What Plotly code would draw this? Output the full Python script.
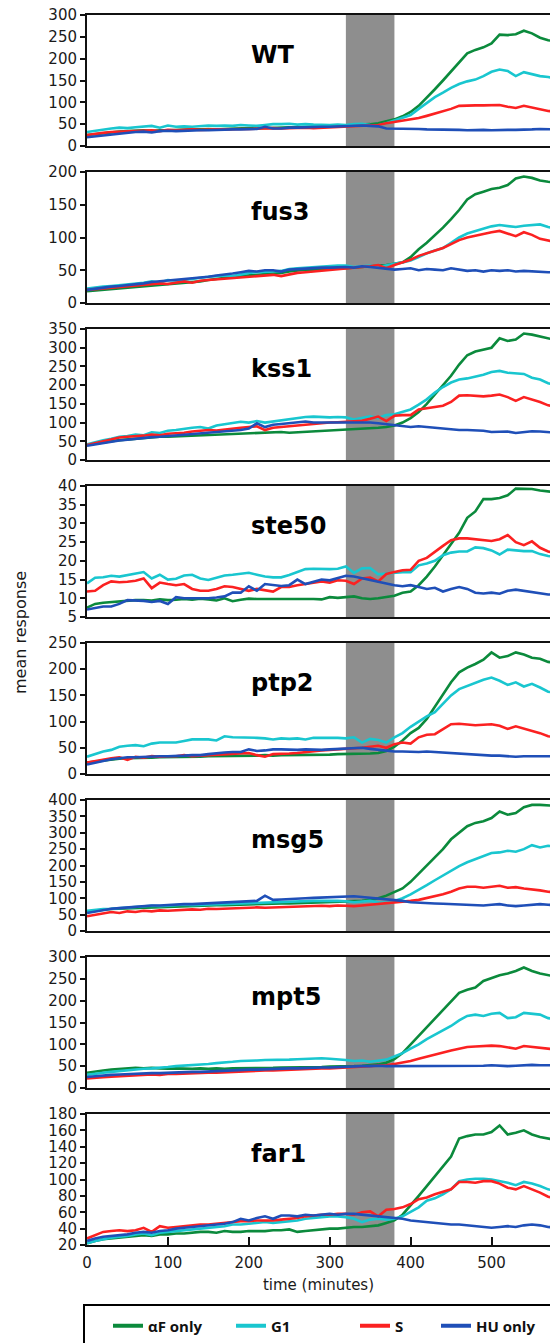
import plotly.graph_objects as go
from plotly.subplots import make_subplots

TIME = list(range(0, 590, 10))  # minutes
SHADE = [320, 380]
SERIES_NAMES = ["αF only", "G1", "S", "HU only"]
COLORS = ["#0b8a3c", "#19c6cf", "#fb2121", "#1f4fb8"]

WT_AF = [25,27,30,32,33,34,35,36,34,36, 36,37,37,38,38,39,38,39,40,40, 41,40,41,42,42,43,43,44,44,45,
         45,46,47,47,48,50,52,56,61,68, 78,92,110,130,150,170,190,212,220,226, 235,255,254,256,264,258,248,242,240]
WT_G1 = [32,35,38,40,42,41,43,44,46,42, 47,44,45,44,46,47,46,47,46,48, 47,46,48,50,50,51,49,50,49,48,
         48,49,48,50,51,48,47,52,58,64, 71,85,99,112,122,133,142,148,152,160, 170,175,172,160,169,164,160,158,155]
WT_S = [25,28,30,32,33,34,35,35,36,34, 37,36,37,38,37,38,38,38,39,39, 39,40,40,41,40,41,42,42,41,42,
        42,43,44,45,46,47,48,52,55,57, 60,64,69,74,79,85,92,93,93,93, 93,94,90,87,92,88,84,80,79]
WT_HU = [20,22,25,27,29,30,32,33,31,34, 35,34,35,35,36,36,37,37,38,38, 39,39,44,40,40,42,42,43,43,44,
         44,45,46,46,47,46,45,40,40,39, 39,39,38,38,37,37,37,36,37,37, 36,37,37,37,37,38,39,38,38]

FUS3_AF = [18,19,20,21,22,23,24,25,26,27, 28,29,30,31,33,35,37,38,40,41, 42,43,44,44,46,48,50,51,51,52,
           52,53,53,54,55,55,56,58,60,62, 70,82,92,103,115,128,142,158,166,170, 174,176,180,190,193,191,187,185,184]
FUS3_G1 = [22,24,25,26,27,28,30,31,33,31, 35,34,35,37,38,40,41,42,41,44, 46,47,47,48,49,52,53,54,55,56,
           56,57,57,55,56,57,55,58,60,62, 65,70,76,80,84,92,100,106,110,114, 117,119,118,116,118,119,120,116,114]
FUS3_S = [20,21,22,23,24,25,26,27,28,30, 29,31,33,31,34,35,36,37,37,38, 40,41,42,43,41,44,46,47,48,49,
          50,52,52,53,54,56,58,53,58,62, 66,72,76,80,84,90,96,100,103,106, 108,110,106,102,108,104,98,95,93]
FUS3_HU = [20,22,24,25,26,27,29,30,32,33, 34,35,36,38,39,40,42,43,45,47, 49,48,50,50,48,51,52,53,53,54,
           54,55,55,54,56,55,54,52,51,52, 53,50,52,51,50,53,51,49,50,48, 50,49,50,48,49,48,48,47,47]

KSS1_AF = [40,44,47,50,53,55,58,60,60,62, 62,63,63,64,65,66,67,68,70,70, 72,72,73,74,75,73,74,76,77,78,
           79,80,81,82,84,85,86,88,92,100, 112,128,150,175,200,225,255,280,290,295, 300,325,318,322,338,335,330,325,320]
KSS1_G1 = [42,48,53,57,62,64,68,66,74,72, 78,80,84,86,88,84,92,96,100,102, 100,104,100,103,107,110,113,115,116,115,
           114,115,114,108,112,117,112,120,122,128, 135,148,162,180,195,207,215,218,222,228, 235,238,233,232,230,220,215,205,200]
KSS1_S = [40,45,52,56,60,62,63,65,68,66, 70,71,73,76,78,80,79,82,84,86, 88,90,80,86,88,90,92,95,97,99,
          100,101,102,103,105,110,116,104,118,120, 120,135,138,140,145,155,172,173,172,170, 172,175,168,158,168,162,155,146,143]
KSS1_HU = [38,42,46,50,52,54,57,59,61,62, 64,65,66,68,70,72,74,76,78,80, 84,98,88,94,96,98,100,103,100,101,
           100,100,100,101,101,100,98,96,93,90, 88,90,88,86,83,81,80,80,80,78, 75,76,76,72,75,77,76,74,73]

STE50_AF = [7.5,8.5,8.8,9.0,9.2,9.3,9.5,9.5,9.4,9.7, 9.5,9.6,9.8,9.6,9.9,9.7,9.4,10.0,9.2,9.6,
            9.9,9.8,9.8,9.9,9.9,10.0,10.0,9.9,9.8,9.7, 10.3,10.1,10.3,10.5,10.0,9.8,10.0,10.4,10.7,11.5,
            11.8,13.5,15.8,18.5,21.5,24.5,27.5,31.5,33.2,36.5, 36.5,36.8,37.5,39.3,39.2,39.2,38.8,38.5,38.3]
STE50_G1 = [14.0,15.5,15.6,16.0,15.8,16.2,16.5,17.0,15.3,16.3, 15.0,15.2,16.1,16.3,15.3,14.9,15.5,16.1,16.3,16.6,
            16.8,16.3,15.8,15.6,15.6,16.2,16.9,17.8,17.9,17.8, 17.8,17.9,18.5,16.8,18.0,18.1,16.4,16.6,16.8,17.0,
            17.0,18.8,19.3,20.0,21.5,22.2,22.5,22.5,23.6,23.4, 22.8,21.7,23.0,22.7,22.6,22.6,21.8,21.3,21.0]
STE50_S = [11.8,12.0,13.5,14.5,14.3,14.4,14.7,15.3,12.7,14.2, 13.8,13.5,13.8,12.5,12.0,12.0,12.5,13.2,13.0,12.5,
           12.0,12.5,12.2,11.8,13.0,13.0,13.5,13.8,14.0,14.5, 14.2,14.8,14.7,13.8,15.3,15.5,14.5,16.5,17.0,17.5,
           17.6,20.0,20.8,22.5,24.0,25.5,26.0,26.0,25.8,25.5, 25.3,25.8,26.9,25.0,24.2,25.2,23.5,22.5,22.0]
STE50_HU = [7.0,7.5,7.8,7.8,8.5,9.5,9.5,9.3,9.0,9.3, 8.5,10.3,10.0,10.0,9.8,10.0,10.2,10.5,11.5,11.5,
            13.2,12.0,13.8,13.5,13.3,13.5,15.0,13.8,14.5,15.0, 14.8,15.5,16.0,15.8,15.3,15.0,14.5,14.0,13.5,13.2,
            13.5,13.0,12.5,12.8,11.8,12.5,13.0,12.5,11.5,11.3, 11.5,11.2,12.0,12.3,12.0,11.5,11.3,11.0,11.0]

PTP2_AF = [22,24,26,28,29,30,30,31,31,32, 32,32,33,33,33,34,34,34,35,35, 35,35,36,35,36,36,36,37,37,37,
           37,38,38,38,38,39,40,44,52,64, 78,88,105,128,150,175,194,203,210,218, 232,222,225,232,228,222,220,214,212]
PTP2_G1 = [33,38,43,46,52,54,55,53,58,60, 60,60,63,66,66,66,64,72,70,70, 70,69,68,66,68,67,68,66,69,69,
           70,69,68,70,60,67,65,60,70,78, 90,100,110,118,135,150,162,168,175,180, 184,178,170,175,167,172,165,157,155]
PTP2_S = [22,25,28,30,32,27,33,31,34,33, 34,34,36,34,35,36,37,38,38,40, 40,36,33,38,38,39,40,42,43,45,
          46,47,48,48,50,52,54,50,57,60, 58,70,75,76,85,95,96,94,93,94, 95,92,86,91,87,82,78,72,70]
PTP2_HU = [18,22,25,28,30,32,32,33,33,34, 34,34,35,36,36,38,40,41,42,42, 47,44,45,47,47,46,46,47,46,46,
           47,48,49,50,50,48,46,45,43,43, 42,42,43,42,40,39,38,38,37,35, 35,35,34,33,34,34,35,34,34]

MSG5_AF = [58,62,65,67,68,70,71,72,73,74, 75,76,76,77,78,78,79,79,80,80, 81,82,82,83,84,84,85,86,86,87,
           87,88,89,90,92,95,100,108,118,130, 150,175,200,225,250,280,300,320,330,335, 345,365,355,360,378,385,385,383,382]
MSG5_G1 = [62,65,67,68,70,71,73,75,77,76, 78,79,80,79,80,81,82,83,84,85, 86,85,86,87,88,89,90,91,92,92,
           93,92,91,88,90,92,88,86,92,100, 112,125,140,155,170,185,198,210,220,230, 238,240,245,242,250,262,255,260,258]
MSG5_S = [45,50,55,58,55,60,58,62,60,63, 62,64,65,66,65,68,67,68,70,69, 70,72,71,72,73,74,74,75,76,77,
          76,78,77,76,78,80,82,84,88,90, 92,95,100,105,112,120,130,135,135,132, 135,138,132,134,130,128,124,120,118]
MSG5_HU = [55,60,65,68,70,72,75,76,78,78, 80,80,82,82,83,84,85,86,87,88, 90,92,108,95,96,98,100,100,101,102,
           105,106,105,106,104,102,100,98,95,92, 88,86,85,84,83,82,82,80,80,78, 80,82,78,76,78,80,82,80,79]

MPT5_AF = [35,38,40,42,43,45,46,45,46,45, 44,45,44,44,45,44,45,44,45,45, 46,45,46,46,47,47,48,48,48,48,
           49,49,50,50,51,52,54,58,66,80, 100,120,140,160,180,198,218,225,230,245, 252,258,262,268,276,268,262,258,255]
MPT5_G1 = [30,33,35,37,39,41,43,44,45,46, 48,50,51,53,54,55,57,58,60,62, 62,63,64,64,65,65,66,67,67,68,
           67,66,64,62,63,60,62,65,72,80, 90,100,112,122,132,142,155,165,168,165, 170,172,160,162,172,170,168,160,158]
MPT5_S = [22,24,25,26,27,28,29,30,31,30, 32,32,33,34,34,35,35,36,37,37, 38,39,40,40,41,42,43,43,44,45,
          45,46,47,48,49,50,51,52,55,58, 62,67,72,77,82,86,90,94,95,96, 97,96,93,90,96,94,91,89,88]
MPT5_HU = [25,27,29,30,31,32,33,33,34,34, 35,35,36,37,37,38,39,40,40,41, 42,42,43,44,44,45,45,46,46,47,
           47,48,48,49,50,50,51,50,50,51, 50,51,50,50,51,50,51,50,50,51, 52,51,50,51,52,53,52,52,52]

FAR1_AF = [22,25,27,28,29,30,31,32,31,33, 33,34,34,35,36,36,35,37,36,36, 37,37,37,38,38,39,36,37,38,39,
           40,40,41,42,42,43,44,47,50,57, 68,80,92,104,115,128,150,153,155,155, 158,166,155,157,160,155,152,150,148]
FAR1_G1 = [22,25,27,29,30,31,33,34,32,35, 36,37,38,39,40,41,42,43,45,45, 46,47,48,47,48,49,50,52,53,54,
           55,55,54,52,48,51,52,51,52,55, 60,66,74,77,82,88,98,100,101,101, 100,98,96,93,97,95,92,88,86]
FAR1_S = [28,32,36,37,38,37,38,41,36,43, 41,42,43,44,45,45,46,47,48,49, 49,50,50,50,51,52,53,55,56,57,
          57,58,58,57,60,61,55,63,64,66, 70,76,78,82,85,88,97,97,96,98, 98,95,90,88,92,88,84,79,77]
FAR1_HU = [25,28,30,31,32,33,35,36,35,37, 38,40,41,42,43,44,45,46,48,52, 50,53,55,52,56,56,55,57,56,57,
           58,57,58,58,57,56,55,54,53,52, 50,49,48,47,46,45,45,44,43,42, 41,42,43,42,44,45,44,42,41]

PANEL_NAMES = ["WT", "fus3", "kss1", "ste50", "ptp2", "msg5", "mpt5", "far1"]
PANEL_DATA = [
    (WT_AF, WT_G1, WT_S, WT_HU),
    (FUS3_AF, FUS3_G1, FUS3_S, FUS3_HU),
    (KSS1_AF, KSS1_G1, KSS1_S, KSS1_HU),
    (STE50_AF, STE50_G1, STE50_S, STE50_HU),
    (PTP2_AF, PTP2_G1, PTP2_S, PTP2_HU),
    (MSG5_AF, MSG5_G1, MSG5_S, MSG5_HU),
    (MPT5_AF, MPT5_G1, MPT5_S, MPT5_HU),
    (FAR1_AF, FAR1_G1, FAR1_S, FAR1_HU),
]
Y_RANGES = [(0, 300, 50), (0, 200, 50), (0, 350, 50), (5, 40, 5),
            (0, 250, 50), (0, 400, 50), (0, 300, 50), (20, 180, 20)]

W, H = 550, 1343
ML, MR, MT, MB = 87, 0, 15, 98
PW, PH = W - ML - MR, H - MT - MB

def px_x(p):
    return (p - ML) / PW

def px_y(p):
    return (H - MB - p) / PH

fig = make_subplots(rows=8, cols=1, vertical_spacing=26 / PH)

AXC = "#111111"
TICKFONT = dict(family="DejaVu Sans", size=15, color="#1a1a1a")

for i, (name, series) in enumerate(zip(PANEL_NAMES, PANEL_DATA)):
    r = i + 1
    for ys, nm, col in zip(series, SERIES_NAMES, COLORS):
        fig.add_trace(go.Scatter(x=TIME, y=ys, mode="lines", name=nm,
                                 line=dict(color=col, width=2.6),
                                 showlegend=False, hoverinfo="skip"), row=r, col=1)
    fig.add_vrect(x0=SHADE[0], x1=SHADE[1], fillcolor="#8e8e8e", opacity=1,
                  line_width=0, layer="below", row=r, col=1,
                  exclude_empty_subplots=False)
    lo, hi, dt = Y_RANGES[i]
    fig.update_yaxes(range=[lo, hi], dtick=dt, tick0=lo, row=r, col=1)
    sfx = "" if r == 1 else str(r)
    fig.add_annotation(text=f"<b>{name}</b>", xref=f"x{sfx} domain", yref=f"y{sfx} domain",
                       x=(249 - ML) / PW, y=0.695, xanchor="left", yanchor="middle",
                       showarrow=False, font=dict(family="DejaVu Sans", size=24, color="#000"))

# legend proxies (one legend per entry so positions match the boxed legend)
LEG_X = [113, 236, 360, 441]
for k, (nm, col, lx) in enumerate(zip(SERIES_NAMES, COLORS, LEG_X)):
    lg = "legend" if k == 0 else f"legend{k + 1}"
    fig.add_trace(go.Scatter(x=[None], y=[None], mode="lines", name=nm,
                             line=dict(color=col, width=4), showlegend=True,
                             legend=lg, hoverinfo="skip"), row=1, col=1)
    fig.layout[lg] = dict(x=px_x(lx - 5), xanchor="left", y=px_y(1326), yanchor="middle",
                          orientation="h", bgcolor="rgba(0,0,0,0)", borderwidth=0,
                          itemwidth=30,
                          font=dict(family="Open Sans", size=15, color="#111", weight="bold"))

fig.update_xaxes(range=[0, (W - ML) / 0.809], showline=True, linecolor=AXC, linewidth=2,
                 mirror=True, showgrid=False, zeroline=False, ticks="", showticklabels=False)
fig.update_xaxes(row=8, col=1, ticks="inside", ticklen=8, tickwidth=1.5, tickcolor=AXC,
                 showticklabels=True, dtick=100, tick0=0, tickfont=TICKFONT,
                 ticklabelstandoff=3,
                 title=dict(text="time (minutes)", standoff=8,
                            font=dict(family="DejaVu Sans", size=15, color="#1a1a1a")))
fig.update_yaxes(showline=True, linecolor=AXC, linewidth=2, mirror=False, showgrid=False,
                 zeroline=False, ticks="outside", ticklen=5, tickwidth=1.5, tickcolor=AXC,
                 tickfont=TICKFONT)

fig.add_annotation(text="mean response", xref="paper", yref="paper", x=px_x(20), y=px_y(633),
                   textangle=-90, showarrow=False, xanchor="center", yanchor="middle",
                   font=dict(family="DejaVu Sans", size=16, color="#1a1a1a"))

fig.add_shape(type="rect", xref="paper", yref="paper", x0=px_x(84), x1=1.1,
              y0=px_y(1305), y1=px_y(1370), line=dict(color="#000", width=2),
              fillcolor="rgba(0,0,0,0)")

fig.update_layout(width=W, height=H, margin=dict(l=ML, r=MR, t=MT, b=MB),
                  paper_bgcolor="white", plot_bgcolor="white")

fig.write_html("out.html")
